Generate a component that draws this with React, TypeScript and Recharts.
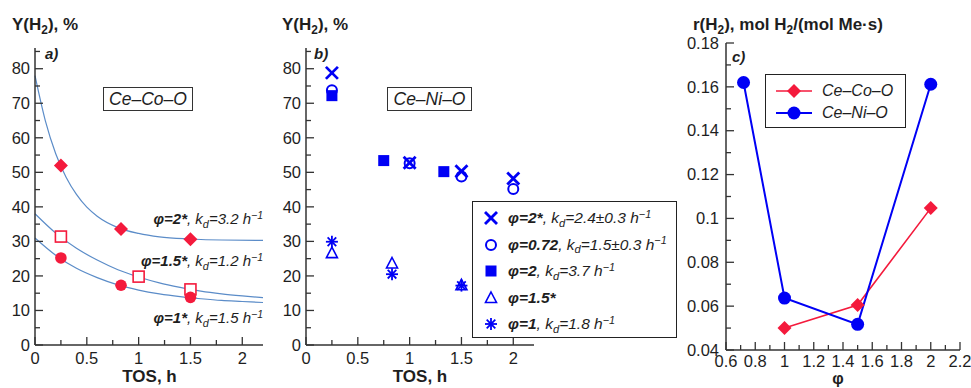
import React from "react";
import { ComposedChart, Line, Scatter, XAxis, YAxis } from "recharts";

const RED = "#f41a3c";
const BLUE = "#0000f5";
const CURVE = "#5b8cc8";
const INK = "#1e1e1e";
const AXIS = "#333";
const FONT = '"Liberation Sans", Arial, sans-serif';

// panel a: Ce–Co–O, measured yields
const coPhi2 = [{ x: 0.25, y: 52 }, { x: 0.83, y: 33.6 }, { x: 1.5, y: 30.6 }];
const coPhi15 = [{ x: 0.25, y: 31.4 }, { x: 1.0, y: 19.8 }, { x: 1.5, y: 16.1 }];
const coPhi1 = [{ x: 0.25, y: 25.2 }, { x: 0.83, y: 17.3 }, { x: 1.5, y: 13.8 }];

// fitted decay curves
const fitPhi2 = [
  { x: 0, y: 78 }, { x: 0.1, y: 64.9 }, { x: 0.2, y: 55.4 }, { x: 0.3, y: 48.6 },
  { x: 0.4, y: 43.6 }, { x: 0.5, y: 39.9 }, { x: 0.6, y: 37.3 }, { x: 0.8, y: 34.0 },
  { x: 1.0, y: 32.3 }, { x: 1.2, y: 31.3 }, { x: 1.5, y: 30.7 }, { x: 1.8, y: 30.4 },
  { x: 2.2, y: 30.3 },
];
const fitPhi15 = [
  { x: 0, y: 38 }, { x: 0.2, y: 32.4 }, { x: 0.4, y: 28.0 }, { x: 0.6, y: 24.6 },
  { x: 0.8, y: 21.8 }, { x: 1.0, y: 19.7 }, { x: 1.2, y: 18.0 }, { x: 1.4, y: 16.7 },
  { x: 1.6, y: 15.6 }, { x: 1.8, y: 14.8 }, { x: 2.0, y: 14.2 }, { x: 2.2, y: 13.7 },
];
const fitPhi1 = [
  { x: 0, y: 31 }, { x: 0.2, y: 26.0 }, { x: 0.4, y: 22.2 }, { x: 0.6, y: 19.5 },
  { x: 0.8, y: 17.4 }, { x: 1.0, y: 15.9 }, { x: 1.2, y: 14.8 }, { x: 1.4, y: 14.0 },
  { x: 1.6, y: 13.4 }, { x: 1.8, y: 12.9 }, { x: 2.0, y: 12.6 }, { x: 2.2, y: 12.3 },
];

// panel b: Ce–Ni–O
const niPhi2Star = [{ x: 0.25, y: 78.8 }, { x: 1.0, y: 52.8 }, { x: 1.5, y: 50.3 }, { x: 2.0, y: 48.2 }];
const niPhi072 = [{ x: 0.25, y: 73.8 }, { x: 1.0, y: 52.6 }, { x: 1.5, y: 48.8 }, { x: 2.0, y: 45.2 }];
const niPhi2 = [{ x: 0.25, y: 72.2 }, { x: 0.75, y: 53.4 }, { x: 1.33, y: 50.2 }];
const niPhi15Star = [{ x: 0.25, y: 26.6 }, { x: 0.83, y: 23.6 }, { x: 1.5, y: 17.3 }];
const niPhi1 = [{ x: 0.25, y: 29.9 }, { x: 0.83, y: 20.5 }, { x: 1.5, y: 17.2 }];

// panel c: rate vs phi
const coRate = [{ x: 1, y: 0.05 }, { x: 1.5, y: 0.0605 }, { x: 2, y: 0.1047 }];
const niRate = [{ x: 0.72, y: 0.162 }, { x: 1, y: 0.0637 }, { x: 1.5, y: 0.0517 }, { x: 2, y: 0.1612 }];

// ticks
const tosTicks = [0, 0.25, 0.5, 0.75, 1, 1.25, 1.5, 1.75, 2];
const tosLabels = [0, 0.5, 1, 1.5, 2];
const yieldTicks = [0, 5, 10, 15, 20, 25, 30, 35, 40, 45, 50, 55, 60, 65, 70, 75, 80, 85];
const yieldLabels = [0, 10, 20, 30, 40, 50, 60, 70, 80];
const phiTicks = [0.6, 0.7, 0.8, 0.9, 1, 1.1, 1.2, 1.3, 1.4, 1.5, 1.6, 1.7, 1.8, 1.9, 2, 2.1, 2.2];
const phiLabels = [0.6, 0.8, 1, 1.2, 1.4, 1.6, 1.8, 2, 2.2];
const rateTicks = [0.04, 0.05, 0.06, 0.07, 0.08, 0.09, 0.1, 0.11, 0.12, 0.13, 0.14, 0.15, 0.16, 0.17, 0.18];
const rateLabels = [0.04, 0.06, 0.08, 0.1, 0.12, 0.14, 0.16, 0.18];

const isMajor = (list: number[], v: number) => list.some((l) => Math.abs(l - v) < 1e-9);

function bottomTick(labels: number[], gap: number, size: number) {
  return (p: any) => {
    const v = p.payload.value;
    const major = isMajor(labels, v);
    return (
      <g>
        <line x1={p.x} x2={p.x} y1={p.y} y2={p.y - (major ? 8 : 5)} stroke={AXIS} strokeWidth={1.3} />
        {major && (
          <text x={p.x} y={p.y + gap} dy="0.35em" textAnchor="middle" fontSize={size} fontFamily={FONT} fill={INK}>
            {String(v)}
          </text>
        )}
      </g>
    );
  };
}

function leftTick(labels: number[], gap: number, size: number) {
  return (p: any) => {
    const v = p.payload.value;
    const major = isMajor(labels, v);
    return (
      <g>
        <line x1={p.x} x2={p.x + (major ? 8 : 5)} y1={p.y} y2={p.y} stroke={AXIS} strokeWidth={1.3} />
        {major && (
          <text x={p.x - gap} y={p.y} dy="0.35em" textAnchor="end" fontSize={size} fontFamily={FONT} fill={INK}>
            {String(v)}
          </text>
        )}
      </g>
    );
  };
}

type Kind = "diamond" | "openSquare" | "dot" | "cross" | "ring" | "square" | "triangle" | "asterisk" | "bigDot";

function Marker({ kind, cx = 0, cy = 0, color }: { kind: Kind; cx?: number; cy?: number; color: string }) {
  switch (kind) {
    case "diamond":
      return <polygon points={`${cx},${cy - 7} ${cx + 7},${cy} ${cx},${cy + 7} ${cx - 7},${cy}`} fill={color} />;
    case "openSquare":
      return <rect x={cx - 5.5} y={cy - 5.5} width={11} height={11} fill="white" stroke={color} strokeWidth={1.6} />;
    case "dot":
      return <circle cx={cx} cy={cy} r={5.8} fill={color} />;
    case "bigDot":
      return <circle cx={cx} cy={cy} r={6.5} fill={color} />;
    case "cross":
      return (
        <g stroke={color} strokeWidth={2.8}>
          <line x1={cx - 6} y1={cy - 6} x2={cx + 6} y2={cy + 6} />
          <line x1={cx - 6} y1={cy + 6} x2={cx + 6} y2={cy - 6} />
        </g>
      );
    case "ring":
      return <circle cx={cx} cy={cy} r={5} fill="none" stroke={color} strokeWidth={2} />;
    case "square":
      return <rect x={cx - 5.5} y={cy - 5.5} width={11} height={11} fill={color} />;
    case "triangle":
      return (
        <polygon
          points={`${cx},${cy - 6} ${cx + 5.5},${cy + 4.5} ${cx - 5.5},${cy + 4.5}`}
          fill="none"
          stroke={color}
          strokeWidth={1.6}
        />
      );
    case "asterisk":
    default:
      return (
        <g stroke={color} strokeWidth={1.8}>
          <line x1={cx - 6} y1={cy} x2={cx + 6} y2={cy} />
          <line x1={cx} y1={cy - 6} x2={cx} y2={cy + 6} />
          <line x1={cx - 4.3} y1={cy - 4.3} x2={cx + 4.3} y2={cy + 4.3} />
          <line x1={cx - 4.3} y1={cy + 4.3} x2={cx + 4.3} y2={cy - 4.3} />
        </g>
      );
  }
}

const shape = (kind: Kind, color: string) => (p: any) => <Marker kind={kind} cx={p.cx} cy={p.cy} color={color} />;

const axisLine = { stroke: AXIS, strokeWidth: 1.5 };

const Kd = () => (
  <>
    k<span style={{ fontSize: "0.72em", position: "relative", top: "0.35em" }}>d</span>
  </>
);
const Hinv = () => (
  <>
    h<span style={{ fontSize: "0.7em", position: "relative", top: "-0.5em" }}>−1</span>
  </>
);

const abs = (left: number, top: number, extra: React.CSSProperties = {}): React.CSSProperties => ({
  position: "absolute",
  left,
  top,
  whiteSpace: "nowrap",
  lineHeight: "20px",
  fontFamily: FONT,
  color: INK,
  ...extra,
});

function YieldPanel({ children }: { children: React.ReactNode }) {
  return (
    <ComposedChart width={300} height={388} margin={{ top: 48, right: 37, bottom: 0, left: 0 }}>
      <XAxis
        type="number"
        dataKey="x"
        domain={[0, 2.2]}
        ticks={tosTicks}
        interval={0}
        tickSize={0}
        tickMargin={0}
        height={43}
        axisLine={axisLine}
        tick={bottomTick(tosLabels, 13, 16.5)}
      />
      <YAxis
        type="number"
        dataKey="y"
        domain={[0, 86]}
        ticks={yieldTicks}
        interval={0}
        tickSize={0}
        tickMargin={0}
        width={35}
        axisLine={axisLine}
        tick={leftTick(yieldLabels, 5, 16.5)}
      />
      {children}
    </ComposedChart>
  );
}

const legendB: { kind: Kind; phi: string; rest: React.ReactNode }[] = [
  { kind: "cross", phi: "φ=2*", rest: <>, <Kd />=2.4±0.3 <Hinv /></> },
  { kind: "ring", phi: "φ=0.72", rest: <>, <Kd />=1.5±0.3 <Hinv /></> },
  { kind: "square", phi: "φ=2", rest: <>, <Kd />=3.7 <Hinv /></> },
  { kind: "triangle", phi: "φ=1.5*", rest: null },
  { kind: "asterisk", phi: "φ=1", rest: <>, <Kd />=1.8 <Hinv /></> },
];

export default function App() {
  return (
    <div style={{ position: "absolute", left: 0, top: 0, width: 971, height: 388, background: "white", overflow: "hidden" }}>
      {/* panel a */}
      <div style={{ position: "absolute", left: 0, top: 0 }}>
        <YieldPanel>
          <Line data={fitPhi2} dataKey="y" type="monotone" stroke={CURVE} strokeWidth={1.2} dot={false} isAnimationActive={false} />
          <Line data={fitPhi15} dataKey="y" type="monotone" stroke={CURVE} strokeWidth={1.2} dot={false} isAnimationActive={false} />
          <Line data={fitPhi1} dataKey="y" type="monotone" stroke={CURVE} strokeWidth={1.2} dot={false} isAnimationActive={false} />
          <Scatter data={coPhi2} shape={shape("diamond", RED)} isAnimationActive={false} />
          <Scatter data={coPhi15} shape={shape("openSquare", RED)} isAnimationActive={false} />
          <Scatter data={coPhi1} shape={shape("dot", RED)} isAnimationActive={false} />
        </YieldPanel>
      </div>

      {/* panel b */}
      <div style={{ position: "absolute", left: 271, top: 0 }}>
        <YieldPanel>
          <Scatter data={niPhi072} shape={shape("ring", BLUE)} isAnimationActive={false} />
          <Scatter data={niPhi2} shape={shape("square", BLUE)} isAnimationActive={false} />
          <Scatter data={niPhi2Star} shape={shape("cross", BLUE)} isAnimationActive={false} />
          <Scatter data={niPhi15Star} shape={shape("triangle", BLUE)} isAnimationActive={false} />
          <Scatter data={niPhi1} shape={shape("asterisk", BLUE)} isAnimationActive={false} />
        </YieldPanel>
      </div>

      {/* panel c */}
      <div style={{ position: "absolute", left: 660, top: 0 }}>
        <ComposedChart width={311} height={388} margin={{ top: 43, right: 11, bottom: 0, left: 0 }}>
          <XAxis
            type="number"
            dataKey="x"
            domain={[0.6, 2.2]}
            ticks={phiTicks}
            interval={0}
            tickSize={0}
            tickMargin={0}
            height={38}
            axisLine={axisLine}
            tick={bottomTick(phiLabels, 11, 16.5)}
          />
          <YAxis
            type="number"
            dataKey="y"
            domain={[0.04, 0.18]}
            ticks={rateTicks}
            interval={0}
            tickSize={0}
            tickMargin={0}
            width={66}
            axisLine={axisLine}
            tick={leftTick(rateLabels, 7, 16.5)}
          />
          <Line
            data={coRate}
            dataKey="y"
            type="linear"
            stroke={RED}
            strokeWidth={1.6}
            dot={(p: any) => <Marker key={`co${p.index}`} kind="diamond" cx={p.cx} cy={p.cy} color={RED} />}
            isAnimationActive={false}
          />
          <Line
            data={niRate}
            dataKey="y"
            type="linear"
            stroke={BLUE}
            strokeWidth={2}
            dot={(p: any) => <Marker key={`ni${p.index}`} kind="bigDot" cx={p.cx} cy={p.cy} color={BLUE} />}
            isAnimationActive={false}
          />
        </ComposedChart>
      </div>

      {/* axis titles */}
      <div style={abs(12, 15, { fontSize: 17, fontWeight: "bold" })}>
        Y(H<span style={{ fontSize: "0.7em", position: "relative", top: "0.35em" }}>2</span>), %
      </div>
      <div style={abs(282, 15, { fontSize: 17, fontWeight: "bold" })}>
        Y(H<span style={{ fontSize: "0.7em", position: "relative", top: "0.35em" }}>2</span>), %
      </div>
      <div style={abs(693, 15, { fontSize: 17, fontWeight: "bold" })}>
        r(H<span style={{ fontSize: "0.7em", position: "relative", top: "0.35em" }}>2</span>), mol H
        <span style={{ fontSize: "0.7em", position: "relative", top: "0.35em" }}>2</span>/(mol Me·s)
      </div>
      <div style={abs(149.5, 367, { fontSize: 17, fontWeight: "bold", transform: "translateX(-50%)" })}>TOS, h</div>
      <div style={abs(420, 367, { fontSize: 17, fontWeight: "bold", transform: "translateX(-50%)" })}>TOS, h</div>
      <div style={abs(838, 370, { fontSize: 16, fontWeight: "bold", lineHeight: "17px", transform: "translateX(-50%)" })}>φ</div>

      {/* panel letters */}
      <div style={abs(45, 44, { fontSize: 15, fontWeight: "bold", fontStyle: "italic" })}>a)</div>
      <div style={abs(314, 44, { fontSize: 15, fontWeight: "bold", fontStyle: "italic" })}>b)</div>
      <div style={abs(732, 47, { fontSize: 15, fontWeight: "bold", fontStyle: "italic" })}>c)</div>

      {/* catalyst boxes */}
      <div
        style={abs(103, 87, {
          width: 90, height: 24, boxSizing: "border-box", border: "1.3px solid #333",
          fontSize: 17.5, fontStyle: "italic", textAlign: "center", lineHeight: "22px",
        })}
      >
        Ce–Co–O
      </div>
      <div
        style={abs(387, 87, {
          width: 85, height: 24, boxSizing: "border-box", border: "1.3px solid #333",
          fontSize: 17.5, fontStyle: "italic", textAlign: "center", lineHeight: "22px",
        })}
      >
        Ce–Ni–O
      </div>

      {/* curve annotations, panel a */}
      {[
        { top: 209, phi: "φ=2*", k: "3.2" },
        { top: 251, phi: "φ=1.5*", k: "1.2" },
        { top: 308, phi: "φ=1*", k: "1.5" },
      ].map((a) => (
        <div key={a.phi} style={abs(0, a.top, { left: "auto", right: 971 - 263, fontSize: 15, fontStyle: "italic" })}>
          <b>{a.phi}</b>, <Kd />={a.k} <Hinv />
        </div>
      ))}

      {/* legend, panel b */}
      <div
        style={abs(472, 201, {
          width: 205, height: 137, boxSizing: "border-box", border: "1.5px solid #222", background: "white",
        })}
      >
        {legendB.map((r, i) => (
          <div key={r.phi} style={abs(0, 6 + i * 26.5, { fontSize: 15.5, fontStyle: "italic" })}>
            <svg width={20} height={20} style={{ position: "absolute", left: 8, top: 0 }}>
              <Marker kind={r.kind} cx={10} cy={10} color={BLUE} />
            </svg>
            <span style={{ position: "absolute", left: 35, top: 0 }}>
              <b>{r.phi}</b>
              {r.rest}
            </span>
          </div>
        ))}
      </div>

      {/* legend, panel c */}
      <div
        style={abs(765, 74, {
          width: 141, height: 54, boxSizing: "border-box", border: "1.5px solid #222", background: "white",
        })}
      >
        {[
          { name: "Ce–Co–O", color: RED, kind: "diamond" as Kind, w: 1.6 },
          { name: "Ce–Ni–O", color: BLUE, kind: "bigDot" as Kind, w: 2 },
        ].map((r, i) => (
          <div key={r.name} style={abs(0, 6 + i * 22, { fontSize: 16, fontStyle: "italic" })}>
            <svg width={40} height={20} style={{ position: "absolute", left: 9, top: 0 }}>
              <line x1={1} x2={37} y1={10} y2={10} stroke={r.color} strokeWidth={r.w} />
              <Marker kind={r.kind} cx={19} cy={10} color={r.color} />
            </svg>
            <span style={{ position: "absolute", left: 56, top: 0 }}>{r.name}</span>
          </div>
        ))}
      </div>
    </div>
  );
}
